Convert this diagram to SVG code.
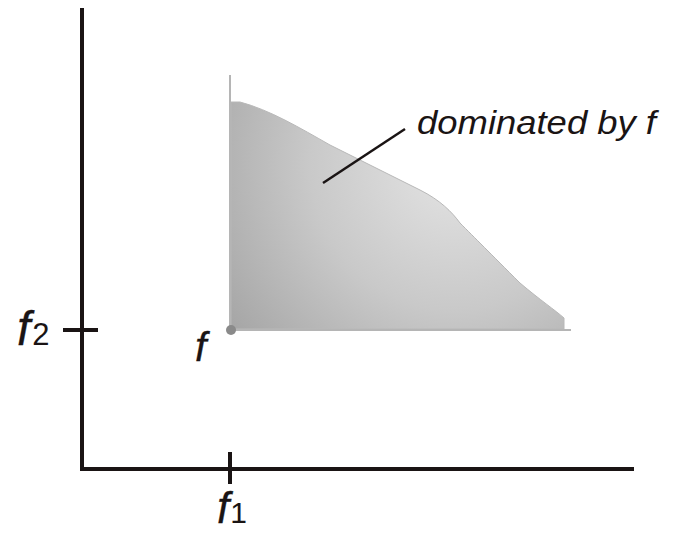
<svg xmlns="http://www.w3.org/2000/svg" width="674" height="533" viewBox="0 0 674 533">
<defs>
<radialGradient id="g" gradientUnits="userSpaceOnUse" cx="455" cy="165" r="290">
<stop offset="0" stop-color="#e4e4e4"/>
<stop offset="0.5" stop-color="#c9c9c9"/>
<stop offset="1" stop-color="#a2a2a2"/>
</radialGradient>
</defs>
<style>
.ax{stroke:#1a1414;stroke-width:4;fill:none}
.lbl{font-family:"Liberation Sans",Arial,sans-serif;fill:#1a1414}
.it{font-style:italic}
.f{stroke:#1a1414;stroke-width:0.3}
</style>
<rect width="674" height="533" fill="#fff"/>
<g id="axes">
<path class="ax" d="M82,8 V469 H634"/>
<path class="ax" d="M63,330 H98"/>
<path class="ax" d="M230,452 V484"/>
</g>
<g id="region">
<path d="M231,102 L240,102 C270,110 300,128 330,145 C360,160 390,175 420,190 C440,200 452,212 460,223 C475,238 490,253 520,283 C540,300 555,310 564,318 L564,329 L231,329 Z" fill="url(#g)" stroke="#b8b8b8" stroke-width="1"/>
<path d="M230,75 V330 H571" stroke="#b5b5b5" stroke-width="2" fill="none"/>
<circle cx="231" cy="330" r="5" fill="#8a8a8a"/>
</g>
<g id="connectors">
<path d="M323,183 L405,129" stroke="#1a1414" stroke-width="2.5"/>
</g>
<g id="labels">
<text class="lbl it" x="417" y="134" font-size="34" textLength="239" lengthAdjust="spacingAndGlyphs">dominated by f</text>
<text class="lbl" x="17" y="345"><tspan class="it f" font-size="48">f</tspan><tspan font-size="31" dx="2">2</tspan></text>
<text class="lbl it f" x="195" y="361" font-size="41">f</text>
<text class="lbl" x="217" y="523"><tspan class="it f" font-size="44">f</tspan><tspan font-size="30" dx="1">1</tspan></text>
</g>
</svg>
